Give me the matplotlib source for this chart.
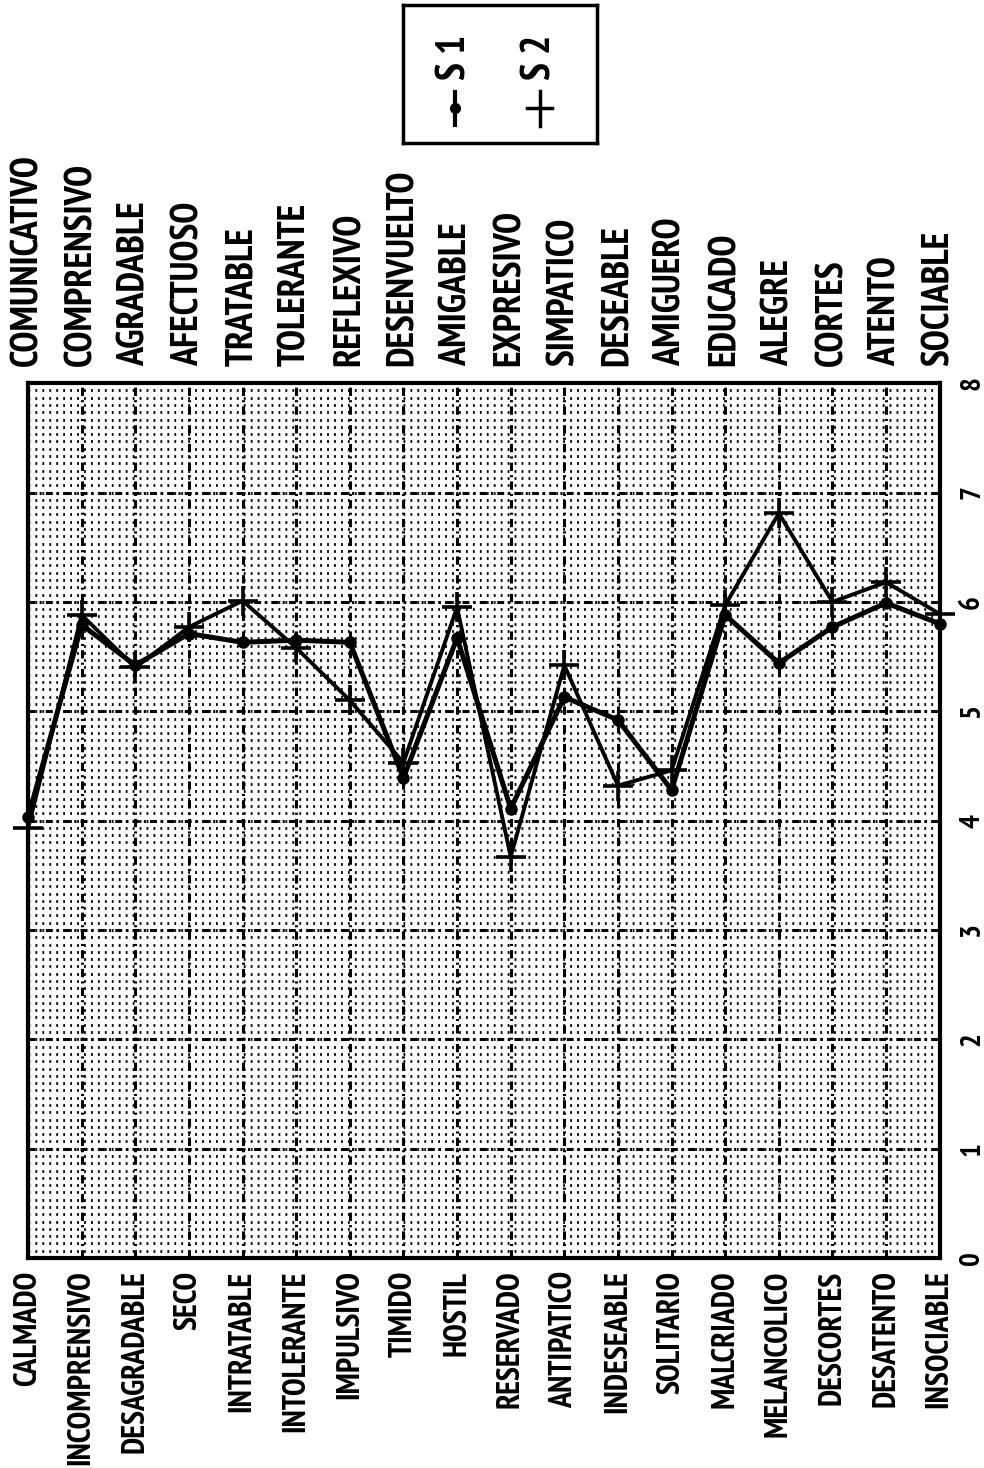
import matplotlib
matplotlib.use("Agg")
import matplotlib.pyplot as plt
import numpy as np
from matplotlib import font_manager

# negative poles (bottom) and positive poles (top)
neg_labels = ["CALMADO", "INCOMPRENSIVO", "DESAGRADABLE", "SECO", "INTRATABLE",
              "INTOLERANTE", "IMPULSIVO", "TIMIDO", "HOSTIL", "RESERVADO",
              "ANTIPATICO", "INDESEABLE", "SOLITARIO", "MALCRIADO", "MELANCOLICO",
              "DESCORTES", "DESATENTO", "INSOCIABLE"]
pos_labels = ["COMUNICATIVO", "COMPRENSIVO", "AGRADABLE", "AFECTUOSO", "TRATABLE",
              "TOLERANTE", "REFLEXIVO", "DESENVUELTO", "AMIGABLE", "EXPRESIVO",
              "SIMPATICO", "DESEABLE", "AMIGUERO", "EDUCADO", "ALEGRE",
              "CORTES", "ATENTO", "SOCIABLE"]
s1 = [4.03, 5.79, 5.42, 5.71, 5.63, 5.65, 5.63, 4.39, 5.67, 4.11,
      5.13, 4.92, 4.28, 5.88, 5.44, 5.77, 5.99, 5.80]
s2 = [3.93, 5.88, 5.40, 5.77, 6.01, 5.58, 5.10, 4.53, 5.95, 3.67,
      5.42, 4.32, 4.46, 5.97, 6.81, 6.00, 6.18, 5.89]
yticks = list(range(0, 9))


def pick_font():
    # look for a narrow bold face first, then plain Arial-like bold
    fl = font_manager.fontManager.ttflist
    def isbold(f):
        w = f.weight
        return (isinstance(w, int) and w >= 700) or str(w).lower() in ('bold', 'heavy', 'black')
    for key in ('narrow', 'condensed'):
        for f in fl:
            if key in f.fname.lower() and 'sans' in f.fname.lower() and isbold(f) \
                    and 'oblique' not in f.fname.lower() and 'italic' not in f.fname.lower():
                return f.fname, 1.0
    for f in fl:
        if f.name == 'Liberation Sans' and isbold(f) and f.style == 'normal':
            return f.fname, 0.84
    return None, 0.78


fpath, k = pick_font()
if fpath:
    mk = lambda s: font_manager.FontProperties(fname=fpath, size=s * k)
else:
    mk = lambda s: font_manager.FontProperties(family='DejaVu Sans', weight='bold', size=s * k)
bot_font = mk(23)
top_font = mk(27.5)
num_font = mk(21)
leg_font = mk(29)

plt.rcParams['lines.scale_dashes'] = False

fig = plt.figure(figsize=(9.84, 14.68), dpi=100)
ax = fig.add_axes([0.0285, 0.143, 0.9265, 0.596])
x = np.arange(len(neg_labels))

# dotted background texture
for v in np.arange(0, 8.001, 1/15):
    ax.axhline(v, color='black', lw=2.0, ls=(0, (1.3, 3.7)), zorder=0)
# major grid
for v in yticks[1:-1]:
    ax.axhline(v, color='black', lw=2.2, ls=(0, (5, 3, 1.5, 3)), zorder=1)
for xi in x[1:-1]:
    ax.axvline(xi, color='black', lw=2.2, ls=(0, (6, 3, 1.5, 3)), zorder=1)

ax.plot(x, s1, color='black', lw=3.6, marker='o', ms=8, zorder=3, clip_on=False)
ax.plot(x, s2, color='black', lw=2.8, marker='+', ms=21, mew=2.6, zorder=3, clip_on=False)

ax.set_xlim(0, len(x) - 1)
ax.set_ylim(0, 8)
ax.set_xticks(x)
ax.set_xticklabels(neg_labels, rotation=90, fontproperties=bot_font)
ax.tick_params(axis='x', length=0, pad=9)
ax.yaxis.tick_right()
ax.set_yticks(yticks)
ax.set_yticklabels([str(t) for t in yticks], rotation=90, va='center',
                   fontproperties=num_font)
ax.tick_params(axis='y', length=0, pad=14)
for sp in ax.spines.values():
    sp.set_linewidth(3)

ax2 = ax.twiny()
ax2.set_xlim(ax.get_xlim())
ax2.set_xticks(x)
ax2.set_xticklabels(pos_labels, rotation=90, fontproperties=top_font)
ax2.tick_params(axis='x', length=0, pad=12)
for sp in ax2.spines.values():
    sp.set_visible(False)

# legend box
lax = fig.add_axes([0.4096, 0.9026, 0.197, 0.094])
lax.set_xlim(0, 1)
lax.set_ylim(0, 1)
lax.set_xticks([])
lax.set_yticks([])
for sp in lax.spines.values():
    sp.set_linewidth(2.5)
lax.plot([0.27, 0.27], [0.13, 0.37], color='black', lw=3)
lax.plot([0.27], [0.25], color='black', marker='o', ms=7)
lax.text(0.27, 0.46, "S 1", rotation=90, ha='center', va='bottom', fontproperties=leg_font)
lax.plot([0.706, 0.706], [0.12, 0.38], color='black', lw=2.5)
lax.plot([0.64, 0.77], [0.25, 0.25], color='black', lw=2.5)
lax.text(0.706, 0.46, "S 2", rotation=90, ha='center', va='bottom', fontproperties=leg_font)

plt.savefig('out.png', dpi=100)
